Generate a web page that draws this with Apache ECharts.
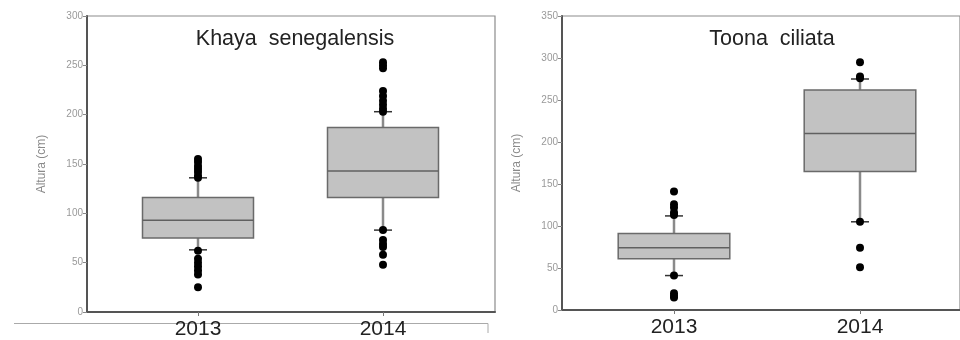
<!DOCTYPE html>
<html>
<head>
<meta charset="utf-8">
<script src="https://cdn.jsdelivr.net/npm/echarts@6/dist/echarts.min.js"></script>
<style>html,body{margin:0;padding:0;background:#fff}#c{width:960px;height:340px}</style>
</head>
<body>
<div id="c"></div>
<script>
const categories = ['2013', '2014'];
const titles = ['Khaya  senegalensis', 'Toona  ciliata'];
const yAxisName = 'Altura (cm)';
const yMax = [300, 350];
// [lowWhisker, Q1, median, Q3, highWhisker]
const khayaBoxes = [[63, 75, 93, 116, 136], [83, 116, 143, 187, 203]];
const toonaBoxes = [[41, 61, 74, 91, 112], [105, 165, 210, 262, 275]];
const khayaOutliers2013 = [155, 152, 148, 145, 142, 138, 136, 62, 54, 50, 46, 42, 38, 25];
const khayaOutliers2014 = [253, 250, 247, 224, 219, 214, 210, 206, 203, 83, 73, 69, 66, 58, 48];
const toonaOutliers2013 = [141, 126, 122, 116, 113, 41, 20, 17, 15];
const toonaOutliers2014 = [295, 278, 276, 105, 74, 51];

const boxes = [khayaBoxes, toonaBoxes];
const outliers = [[khayaOutliers2013, khayaOutliers2014], [toonaOutliers2013, toonaOutliers2014]];

const frames = [
  {left: 87, right: 465, top: 16, bottom: 28},
  {left: 562, right: -4, top: 16, bottom: 30}
];
const dataGrids = [
  {left: 105.5, right: 484.5, top: 16, bottom: 28},
  {left: 581, right: 7, top: 16, bottom: 30}
];

const grid = [], xAxis = [], yAxis = [], series = [], title = [];
const titleX = [290, 767];

function renderBox(params, api) {
  const x = api.value(0);
  const lo = api.coord([x, api.value(1)]);
  const q1 = api.coord([x, api.value(2)]);
  const md = api.coord([x, api.value(3)]);
  const q3 = api.coord([x, api.value(4)]);
  const hi = api.coord([x, api.value(5)]);
  const bw = api.size([1, 0])[0] * 0.6;
  const cx = md[0];
  const capW = 9;
  return {
    type: 'group',
    children: [
      {type: 'line', shape: {x1: cx, y1: q3[1], x2: cx, y2: hi[1]}, style: {stroke: '#8a8a8a', lineWidth: 2.5}},
      {type: 'line', shape: {x1: cx, y1: q1[1], x2: cx, y2: lo[1]}, style: {stroke: '#8a8a8a', lineWidth: 2.5}},
      {type: 'line', shape: {x1: cx - capW, y1: hi[1], x2: cx + capW, y2: hi[1]}, style: {stroke: '#333', lineWidth: 1.5}},
      {type: 'line', shape: {x1: cx - capW, y1: lo[1], x2: cx + capW, y2: lo[1]}, style: {stroke: '#333', lineWidth: 1.5}},
      {type: 'rect', shape: {x: cx - bw / 2, y: q3[1], width: bw, height: q1[1] - q3[1]}, style: {fill: '#c2c2c2', stroke: '#6a6a6a', lineWidth: 1.5}},
      {type: 'line', shape: {x1: cx - bw / 2, y1: md[1], x2: cx + bw / 2, y2: md[1]}, style: {stroke: '#606060', lineWidth: 1.5}}
    ]
  };
}

for (let p = 0; p < 2; p++) {
  const fg = grid.length;
  grid.push(Object.assign({show: true, borderColor: '#8c8c8c', borderWidth: 1.2, backgroundColor: '#fff'}, frames[p]));
  grid.push(Object.assign({}, dataGrids[p]));
  xAxis.push({
    type: 'value', gridIndex: fg, min: 0, max: 1,
    axisLine: {show: true, lineStyle: {color: '#555', width: 2}},
    axisTick: {show: false}, axisLabel: {show: false}, splitLine: {show: false}
  });
  xAxis.push({
    type: 'category', gridIndex: fg + 1, data: categories, boundaryGap: true,
    axisLine: {show: false},
    axisTick: {show: true, alignWithLabel: true, length: 4, lineStyle: {color: '#777'}},
    axisLabel: {color: '#222', fontSize: 21, fontFamily: 'Liberation Sans, Arial, sans-serif', margin: 7}
  });
  yAxis.push({
    type: 'value', gridIndex: fg, min: 0, max: yMax[p], interval: 50,
    name: yAxisName, nameLocation: 'middle', nameGap: 39, nameRotate: 90,
    nameTextStyle: {color: '#8a8a8a', fontSize: 12, fontFamily: 'Liberation Sans, Arial, sans-serif'},
    axisLine: {show: true, lineStyle: {color: '#555', width: 2}},
    axisTick: {show: true, length: 4, lineStyle: {color: '#888'}},
    axisLabel: {color: '#999', fontSize: 10, margin: 4, fontFamily: 'Liberation Sans, Arial, sans-serif'},
    splitLine: {show: false}
  });
  yAxis.push({
    type: 'value', gridIndex: fg + 1, min: 0, max: yMax[p], show: false, splitLine: {show: false}
  });
  const boxData = boxes[p].map((b, i) => [i].concat(b));
  series.push({
    type: 'custom', xAxisIndex: fg + 1, yAxisIndex: fg + 1,
    renderItem: renderBox, data: boxData,
    encode: {x: 0, y: [1, 2, 3, 4, 5]}, z: 2
  });
  const pts = [];
  outliers[p].forEach((arr, i) => arr.forEach(v => pts.push([i, v])));
  series.push({
    type: 'scatter', xAxisIndex: fg + 1, yAxisIndex: fg + 1,
    data: pts, symbol: 'circle', symbolSize: 8,
    itemStyle: {color: '#000', opacity: 1}, z: 3
  });
  title.push({
    text: titles[p], left: titleX[p], top: 23, textAlign: 'center',
    textStyle: {color: '#222', fontSize: 21.5, fontWeight: 'normal', fontFamily: 'Liberation Sans, Arial, sans-serif'}
  });
}

const chart = echarts.init(document.getElementById('c'), null, {renderer: 'canvas'});
chart.setOption({
  animation: false,
  backgroundColor: '#fff',
  title: title,
  grid: grid,
  xAxis: xAxis,
  yAxis: yAxis,
  series: series,
  graphic: [
    {type: 'polyline', shape: {points: [[14, 323.5], [488, 323.5], [488, 333]]}, style: {stroke: '#aaa', lineWidth: 1, fill: null}, z: -1}
  ]
});
</script>
</body>
</html>
